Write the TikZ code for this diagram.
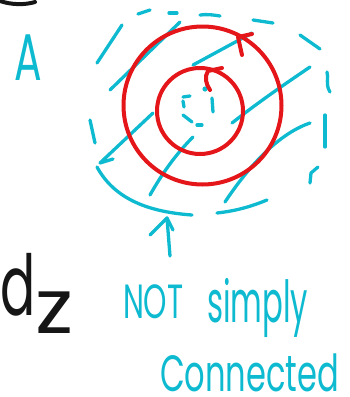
\documentclass[tikz,border=0pt]{standalone}
\usepackage{fontspec}
\setmainfont{Poppins}
\newfontfamily\hand[FakeStretch=0.62]{Poppins}
\newfontfamily\handwide[FakeStretch=0.63]{Poppins}
\newfontfamily\handnarrow[FakeStretch=0.53]{Poppins}
\newfontfamily\handz[FakeStretch=1.1]{Poppins}
\definecolor{sky}{RGB}{14,186,208}
\definecolor{pen}{RGB}{228,22,26}
\definecolor{ink}{RGB}{22,22,22}
\tikzset{
  hatch/.style={draw=sky,line width=3.3pt,line cap=round,line join=round},
  loop/.style={draw=pen,line width=4pt,line cap=round,line join=round},
  word/.style={inner sep=0pt,outer sep=0pt,anchor=base west},
}
\begin{document}
\begin{tikzpicture}[x=1pt,y=-1pt]
\useasboundingbox (0,0) rectangle (349,397);
% cut-off black stroke top left
\draw[ink,line width=4pt,line cap=round] (0,1) .. controls (12,5) and (25,5) .. (35,2);
% label A
\node[word,text=sky,font=\hand\fontsize{66}{66}\selectfont] (A) at (14,80) {A};
% outer dashed boundary (hand-drawn dashes)
\draw[hatch] (138,14) -- (150,10);
\draw[hatch] (169,13) -- (177,13);
\draw[hatch] (200,15) .. controls (207,14) and (214,15) .. (220,16);
\draw[hatch] (253,20) -- (273,23);
\draw[hatch] (300,35) -- (320,49);
\draw[hatch] (327,72) .. controls (329,78) and (325,84) .. (330,92);
\draw[hatch] (325,115) -- (325,147);
\draw[hatch] (318,167) -- (311,173) -- (310,183);
\draw[hatch] (267,200) .. controls (250,207) and (235,211) .. (217,213);
\draw[hatch] (192,215) .. controls (150,212) and (115,200) .. (97,167);
\draw[hatch] (95,143) -- (90,120);
\draw[hatch] (97,63) -- (122,25);
% hatching
\draw[hatch] (110,90) -- (180,22);
\draw[hatch] (193,65) -- (252,33);
\draw[hatch] (113,159) -- (100,163) -- (153,113);
\draw[hatch] (232,123) .. controls (260,101) and (285,84) .. (310,67);
\draw[hatch] (150,195) .. controls (163,172) and (177,153) .. (193,137);
\draw[hatch] (225,202) .. controls (245,172) and (275,135) .. (310,123);
% inner small dashed hole
\draw[hatch] (183,97) -- (190,96);
\draw[hatch] (183,101) -- (184,107);
\draw[hatch] (212,98) -- (213,112);
\draw[hatch] (183,115) -- (192,122);
\draw[hatch] (197,125) -- (202,125);
\fill[sky] (205,89) circle[radius=2.6pt];
% red loops
\draw[loop] (202.5,105.5) circle[radius=79pt];
\draw[loop] (200,111) circle[radius=43pt];
\draw[loop] (252,34) -- (238,37) -- (242,55);
\draw[loop] (222,68) -- (208,71) .. controls (204,77) and (206,84) .. (210,90);
% pointer arrow
\coordinate (tip) at (167,218);
\coordinate (tail) at (170,256);
\draw[hatch] (tail) -- (tip);
\draw[hatch] (150,235) -- (tip) -- (173,230);
% texts
\node[word,text=ink,font=\hand\fontsize{84}{84}\selectfont] (d) at (0,315) {d};
\node[word,text=ink,font=\handz\fontsize{76}{76}\selectfont] (z) at (35,333) {z};
\node[word,text=sky,font=\hand\fontsize{48}{48}\selectfont] (not) at (123,318) {NOT};
\node[word,text=sky,font=\handnarrow\fontsize{58}{58}\selectfont] (simply) at (207,322) {simply};
\node[word,text=sky,font=\handwide\fontsize{51}{51}\selectfont] (conn) at (160,391) {Connected};
\end{tikzpicture}
\end{document}
